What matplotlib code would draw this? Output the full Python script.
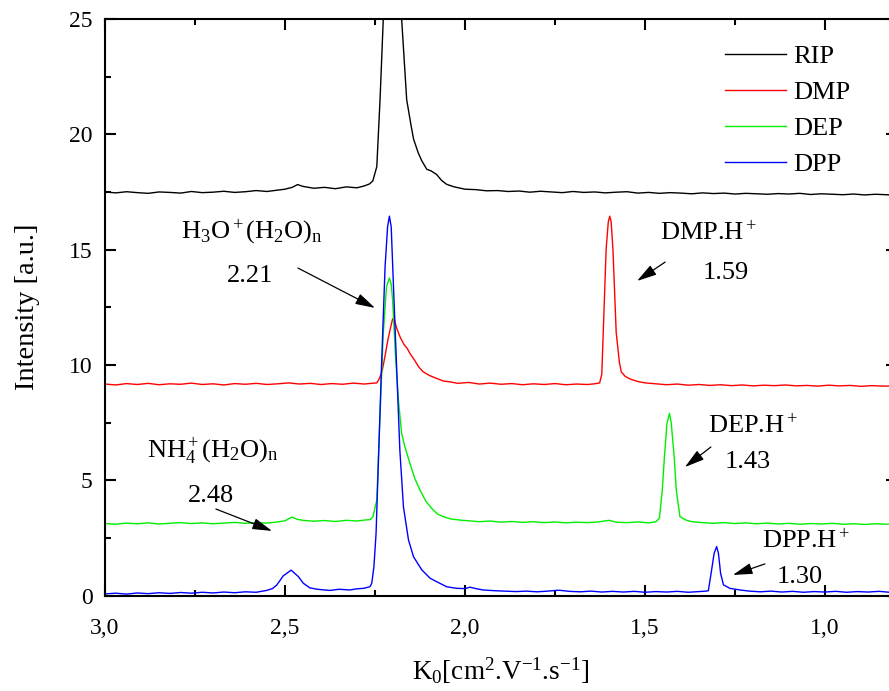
import numpy as np
import matplotlib
matplotlib.use("Agg")
import matplotlib.pyplot as plt
from matplotlib.ticker import MultipleLocator, FuncFormatter

plt.rcParams["font.family"] = ["Liberation Serif", "DejaVu Serif"]
plt.rcParams["mathtext.fontset"] = "custom"
plt.rcParams["mathtext.rm"] = "Liberation Serif"
plt.rcParams["mathtext.it"] = "Liberation Serif:italic"

# spettri: (K0, intensita')
rip = [(3.00, 17.50), (2.97, 17.46), (2.94, 17.51), (2.91, 17.47), (2.88, 17.44), (2.85, 17.50),
       (2.82, 17.48), (2.79, 17.45), (2.76, 17.52), (2.73, 17.47), (2.70, 17.49), (2.67, 17.53),
       (2.64, 17.48), (2.61, 17.51), (2.58, 17.56), (2.55, 17.52), (2.52, 17.58), (2.50, 17.62),
       (2.48, 17.70), (2.465, 17.82), (2.45, 17.74), (2.42, 17.66), (2.39, 17.70), (2.36, 17.64),
       (2.33, 17.72), (2.30, 17.68), (2.28, 17.76), (2.265, 17.85), (2.256, 17.98), (2.245, 18.6),
       (2.236, 21.5), (2.227, 25.0), (2.215, 27.8), (2.20, 28.4), (2.188, 27.6), (2.176, 25.0),
       (2.162, 21.5), (2.15, 20.4), (2.143, 19.8), (2.13, 19.2), (2.12, 18.85), (2.106, 18.48),
       (2.095, 18.42), (2.079, 18.26), (2.065, 18.0), (2.051, 17.83), (2.03, 17.72), (2.00, 17.62),
       (1.97, 17.60), (1.94, 17.55), (1.91, 17.56), (1.88, 17.52), (1.85, 17.54), (1.82, 17.49),
       (1.79, 17.53), (1.76, 17.50), (1.73, 17.47), (1.70, 17.52), (1.67, 17.48), (1.64, 17.50),
       (1.61, 17.46), (1.58, 17.49), (1.55, 17.51), (1.52, 17.45), (1.49, 17.48), (1.46, 17.44),
       (1.43, 17.47), (1.40, 17.45), (1.37, 17.42), (1.34, 17.46), (1.31, 17.43), (1.28, 17.45),
       (1.25, 17.41), (1.22, 17.44), (1.19, 17.42), (1.16, 17.40), (1.13, 17.43), (1.10, 17.41),
       (1.07, 17.44), (1.04, 17.39), (1.01, 17.42), (0.98, 17.40), (0.95, 17.38), (0.92, 17.41),
       (0.89, 17.37), (0.86, 17.40), (0.83, 17.38), (0.80, 17.36)]

dmp = [(3.00, 9.17), (2.97, 9.13), (2.94, 9.19), (2.91, 9.15), (2.88, 9.20), (2.85, 9.14),
       (2.82, 9.18), (2.79, 9.16), (2.76, 9.21), (2.73, 9.15), (2.70, 9.18), (2.67, 9.13),
       (2.64, 9.19), (2.61, 9.16), (2.58, 9.20), (2.55, 9.15), (2.52, 9.18), (2.49, 9.22),
       (2.46, 9.17), (2.43, 9.20), (2.40, 9.15), (2.37, 9.19), (2.34, 9.16), (2.31, 9.21),
       (2.28, 9.17), (2.26, 9.20), (2.245, 9.22), (2.238, 9.4), (2.23, 9.75), (2.222, 10.4),
       (2.214, 11.1), (2.207, 11.6), (2.201, 12.0), (2.196, 11.95), (2.19, 11.6), (2.18, 11.2),
       (2.17, 10.9), (2.16, 10.7), (2.153, 10.5), (2.14, 10.2), (2.128, 9.9), (2.116, 9.7),
       (2.10, 9.55), (2.08, 9.42), (2.06, 9.3), (2.04, 9.26), (2.02, 9.2), (1.99, 9.24),
       (1.96, 9.17), (1.93, 9.21), (1.90, 9.16), (1.87, 9.19), (1.84, 9.14), (1.81, 9.18),
       (1.78, 9.15), (1.75, 9.19), (1.72, 9.14), (1.69, 9.17), (1.66, 9.15), (1.64, 9.18),
       (1.626, 9.22), (1.620, 9.6), (1.616, 11.4), (1.608, 15.0), (1.602, 16.2), (1.598, 16.45),
       (1.594, 16.2), (1.589, 15.0), (1.580, 11.4), (1.571, 10.1), (1.566, 9.7), (1.555, 9.5),
       (1.54, 9.38), (1.52, 9.28), (1.50, 9.22), (1.47, 9.18), (1.44, 9.14), (1.41, 9.17),
       (1.38, 9.12), (1.35, 9.15), (1.32, 9.11), (1.29, 9.14), (1.26, 9.10), (1.23, 9.13),
       (1.20, 9.09), (1.17, 9.12), (1.14, 9.10), (1.11, 9.13), (1.08, 9.09), (1.05, 9.11),
       (1.02, 9.08), (0.99, 9.12), (0.96, 9.09), (0.93, 9.11), (0.90, 9.07), (0.87, 9.10),
       (0.84, 9.08), (0.80, 9.09)]

dep = [(3.00, 3.12), (2.97, 3.09), (2.94, 3.14), (2.91, 3.11), (2.88, 3.15), (2.85, 3.10),
       (2.82, 3.13), (2.79, 3.16), (2.76, 3.12), (2.73, 3.15), (2.70, 3.11), (2.67, 3.14),
       (2.64, 3.17), (2.61, 3.13), (2.58, 3.16), (2.55, 3.14), (2.52, 3.19), (2.50, 3.24),
       (2.481, 3.40), (2.465, 3.30), (2.45, 3.26), (2.42, 3.22), (2.39, 3.25), (2.36, 3.21),
       (2.33, 3.26), (2.30, 3.23), (2.28, 3.27), (2.264, 3.29), (2.256, 3.40), (2.25, 3.8),
       (2.245, 4.14), (2.238, 7.03), (2.227, 11.37), (2.218, 13.39), (2.21, 13.77), (2.205, 13.5),
       (2.201, 12.81), (2.194, 10.65), (2.185, 8.48), (2.176, 7.03), (2.167, 6.45), (2.153, 5.73),
       (2.14, 5.1), (2.125, 4.57), (2.108, 4.07), (2.088, 3.7), (2.075, 3.52), (2.06, 3.42),
       (2.04, 3.32), (2.014, 3.27), (1.99, 3.24), (1.96, 3.20), (1.93, 3.23), (1.90, 3.18),
       (1.87, 3.21), (1.84, 3.17), (1.81, 3.20), (1.78, 3.16), (1.75, 3.19), (1.72, 3.15),
       (1.69, 3.18), (1.66, 3.16), (1.63, 3.19), (1.60, 3.26), (1.58, 3.18), (1.55, 3.16),
       (1.52, 3.19), (1.49, 3.15), (1.47, 3.20), (1.46, 3.35), (1.452, 4.57), (1.446, 6.02),
       (1.439, 7.47), (1.432, 7.9), (1.427, 7.47), (1.419, 6.02), (1.413, 4.57), (1.403, 3.42),
       (1.386, 3.27), (1.37, 3.20), (1.34, 3.16), (1.31, 3.13), (1.28, 3.16), (1.25, 3.12),
       (1.22, 3.15), (1.19, 3.11), (1.16, 3.14), (1.13, 3.10), (1.10, 3.13), (1.07, 3.09),
       (1.04, 3.12), (1.01, 3.10), (0.98, 3.13), (0.95, 3.09), (0.92, 3.11), (0.89, 3.08),
       (0.86, 3.11), (0.83, 3.09), (0.80, 3.10)]

dpp = [(3.00, 0.07), (2.97, 0.10), (2.94, 0.06), (2.91, 0.11), (2.88, 0.08), (2.85, 0.12),
       (2.82, 0.09), (2.79, 0.13), (2.76, 0.10), (2.73, 0.14), (2.70, 0.11), (2.67, 0.15),
       (2.64, 0.12), (2.61, 0.16), (2.58, 0.14), (2.551, 0.22), (2.535, 0.30), (2.523, 0.45),
       (2.505, 0.85), (2.483, 1.10), (2.463, 0.82), (2.449, 0.53), (2.431, 0.33), (2.41, 0.27),
       (2.39, 0.24), (2.375, 0.22), (2.35, 0.27), (2.32, 0.24), (2.30, 0.29), (2.282, 0.31),
       (2.264, 0.38), (2.259, 0.53), (2.253, 1.25), (2.247, 2.7), (2.241, 5.59), (2.232, 9.92),
       (2.222, 14.26), (2.215, 15.99), (2.21, 16.45), (2.205, 15.99), (2.199, 13.54), (2.19, 9.92),
       (2.181, 6.31), (2.171, 3.85), (2.157, 2.41), (2.143, 1.68), (2.12, 1.11), (2.097, 0.75),
       (2.079, 0.60), (2.051, 0.38), (2.023, 0.31), (2.00, 0.30), (1.986, 0.36), (1.97, 0.30),
       (1.95, 0.24), (1.92, 0.21), (1.89, 0.19), (1.857, 0.17), (1.83, 0.19), (1.80, 0.16),
       (1.77, 0.19), (1.74, 0.23), (1.71, 0.18), (1.68, 0.16), (1.65, 0.19), (1.62, 0.15),
       (1.59, 0.18), (1.56, 0.15), (1.53, 0.18), (1.50, 0.14), (1.47, 0.17), (1.44, 0.15),
       (1.41, 0.18), (1.38, 0.14), (1.35, 0.17), (1.33, 0.19), (1.324, 0.21), (1.315, 1.10),
       (1.308, 1.83), (1.301, 2.12), (1.296, 1.83), (1.29, 0.96), (1.282, 0.46), (1.264, 0.31),
       (1.236, 0.24), (1.21, 0.19), (1.18, 0.16), (1.15, 0.19), (1.12, 0.15), (1.09, 0.18),
       (1.06, 0.14), (1.03, 0.17), (1.00, 0.15), (0.97, 0.18), (0.94, 0.14), (0.91, 0.17),
       (0.88, 0.15), (0.85, 0.18), (0.82, 0.14), (0.80, 0.16)]

series_names = ["RIP", "DMP", "DEP", "DPP"]
series_colors = ["black", "#ff0000", "#00ee00", "#0000ff"]

FS_ANN = 19

fig = plt.figure(figsize=(8.89, 6.91), dpi=100)
ax = fig.add_axes([105 / 889, (691 - 595.5) / 691, (897 - 105) / 889, (595.5 - 19) / 691])

for data, name, col in zip([rip, dmp, dep, dpp], series_names, series_colors):
    arr = np.array(data)
    ax.plot(arr[:, 0], arr[:, 1], color=col, lw=1.0, label=name)

ax.set_xlim(3.0, 0.8)
ax.set_ylim(0, 25)

ax.xaxis.set_major_locator(MultipleLocator(0.5))
ax.xaxis.set_minor_locator(MultipleLocator(0.25))
ax.yaxis.set_major_locator(MultipleLocator(5))
ax.yaxis.set_minor_locator(MultipleLocator(2.5))
ax.xaxis.set_major_formatter(FuncFormatter(lambda v, p: f"{v:.1f}".replace(".", ",")))
ax.tick_params(which="both", direction="in", top=True, right=True, width=1.5)
ax.tick_params(which="major", length=8)
ax.tick_params(which="minor", length=4)
ax.tick_params(axis="x", which="major", pad=16, labelsize=17)
ax.tick_params(axis="y", which="major", pad=9, labelsize=17)
for sp in ax.spines.values():
    sp.set_linewidth(1.5)

ax.set_ylabel("Intensity [a.u.]", fontsize=20.5, labelpad=21)
ax.set_xlabel(r"K$_0$[cm$^2$.V$^{-1}$.s$^{-1}$]", fontsize=19.5, labelpad=12)

leg = ax.legend(loc="upper left", bbox_to_anchor=(725 / 889, 1 - 45 / 691),
                bbox_transform=fig.transFigure, frameon=False, fontsize=19,
                handlelength=2.3, handletextpad=0.3, labelspacing=0.47,
                borderpad=0, borderaxespad=0)

arrow = dict(arrowstyle="-|>,head_length=0.6,head_width=0.17", color="black",
             lw=0.9, shrinkA=0, shrinkB=0, mutation_scale=20)

ax.annotate("", xy=(2.25, 12.47), xytext=(2.464, 14.20), arrowprops=arrow)
ax.text(2.593, 15.50, r"$\mathrm{H_3O^+(H_2O)_n}$", fontsize=FS_ANN, ha="center", va="baseline")
ax.text(2.597, 13.61, "2.21", fontsize=FS_ANN, ha="center", va="baseline")

ax.annotate("", xy=(1.522, 13.64), xytext=(1.444, 14.46), arrowprops=arrow)
ax.text(1.458, 15.41, r"DMP.H$^+$", fontsize=FS_ANN, ha="left", va="baseline")
ax.text(1.339, 13.73, "1.59", fontsize=FS_ANN, ha="left", va="baseline")

ax.annotate("", xy=(1.389, 5.57), xytext=(1.317, 6.44), arrowprops=arrow)
ax.text(1.325, 7.05, r"DEP.H$^+$", fontsize=FS_ANN, ha="left", va="baseline")
ax.text(1.278, 5.53, "1.43", fontsize=FS_ANN, ha="left", va="baseline")

ax.annotate("", xy=(1.256, 0.89), xytext=(1.167, 1.37), arrowprops=arrow)
ax.text(1.175, 2.06, r"DPP.H$^+$", fontsize=FS_ANN, ha="left", va="baseline")
ax.text(1.133, 0.54, "1.30", fontsize=FS_ANN, ha="left", va="baseline")

ax.annotate("", xy=(2.536, 2.80), xytext=(2.692, 3.75), arrowprops=arrow)
ax.text(2.70, 6.01, r"$\mathrm{NH_4^+(H_2O)_n}$", fontsize=FS_ANN, ha="center", va="baseline")
ax.text(2.706, 4.05, "2.48", fontsize=FS_ANN, ha="center", va="baseline")

fig.savefig("out.png", dpi=100)
